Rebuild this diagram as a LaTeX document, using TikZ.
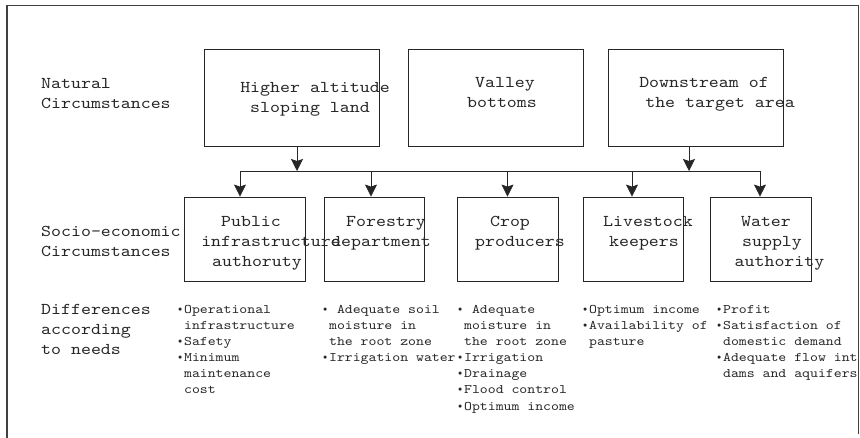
\documentclass[tikz,border=0pt]{standalone}
\usepackage{fontspec}
\setmainfont{lmmono10-regular.otf}[FakeStretch=1.15]
\newfontfamily\bulfont{DejaVu Sans}
\usetikzlibrary{arrows.meta}
\newcommand\indt{\hphantom{x}}
\newcommand\bul{\makebox[\fontcharwd\font`x][c]{\bulfont\scalebox{0.8}{•}}}
\tikzset{
  frame/.style={line width=1.3pt, draw=black!75},
  box/.style={draw=black!85, line width=0.8pt, inner sep=0pt, minimum width=#1},
  topbox/.style={box=175pt, minimum height=97pt},
  botbox/.style={box=100pt, minimum height=84pt},
  big/.style={font=\fontsize{16.5}{20}\selectfont, text=black!85, inner sep=0pt, anchor=base},
  lbl/.style={big, anchor=base west},
  lst/.style={font=\fontsize{13.1}{16}\selectfont, text=black!85, inner sep=0pt, anchor=base west},
  conn/.style={draw=black!85, line width=0.8pt},
  arr/.style={conn, -{Stealth[length=12pt, width=12pt, inset=2pt]}},
}
\begin{document}
\begin{tikzpicture}[x=1pt, y=-1pt]
\useasboundingbox (0,0) rectangle (860,438);
% frame
\draw[frame] (7,438) -- (7,5.5) -- (858.5,5.5) -- (858.5,434);

% row labels
\node[lbl] (n1) at (41,89) {Natural};
\node[lbl] (n2) at (41,109) {Circumstances};
\node[lbl] (s1) at (41,237) {Socio-economic};
\node[lbl] (s2) at (41,257) {Circumstances};
\node[lbl] (d1) at (41,315) {Differences};
\node[lbl] (d2) at (41,335) {according};
\node[lbl] (d3) at (41,355) {to needs};

% top boxes
\node[topbox] (t1) at (291.5,97.5) {};
\node[topbox] (t2) at (495.75,97.5) {};
\node[topbox] (t3) at (695.5,97.5) {};
\node[big] (t1a) at (315,92.5) {Higher altitude};
\node[big] (t1b) at (310,112.5) {sloping land};
\node[big] (t2a) at (505,87.5) {Valley};
\node[big] (t2b) at (502,107.5) {bottoms};
\node[big] (t3a) at (704,87.5) {Downstream of};
\node[big] (t3b) at (720,107.5) {the target area};

% bottom boxes
\node[botbox, minimum width=121pt] (b1) at (244.5,239) {};
\node[botbox] (b2) at (374,239) {};
\node[botbox, minimum width=101pt] (b3) at (507.5,239) {};
\node[botbox] (b4) at (633,239) {};
\node[botbox, minimum width=101pt] (b5) at (760.5,239) {};
\node[big] (b1a) at (251,227) {Public};
\node[big] (b1b) at (271,247) {infrastructure};
\node[big] (b1c) at (257,267) {authoruty};
\node[big] (b2a) at (386,227) {Forestry};
\node[big] (b2b) at (381,247) {department};
\node[big] (b3a) at (510,227) {Crop};
\node[big] (b3b) at (520,247) {producers};
\node[big] (b4a) at (648,227) {Livestock};
\node[big] (b4b) at (644,247) {keepers};
\node[big] (b5a) at (766,227) {Water};
\node[big] (b5b) at (772,247) {supply};
\node[big] (b5c) at (779.5,267) {authority};

% connectors
\coordinate (busL) at (240,171);
\coordinate (busR) at (760,171);
\draw[conn] (busL) -- (busR);
\draw[arr] ([xshift=5.5pt]t1.south) -- ([xshift=5.5pt]t1.south |- busL);
\draw[arr] ([xshift=-6.5pt]t3.south) -- ([xshift=-6.5pt]t3.south |- busL);
\draw[arr] (busL) -- (busL |- b1.north);
\draw[arr] ([xshift=-3pt]b2.north |- busL) -- ([xshift=-3pt]b2.north);
\draw[arr] (b3.north |- busL) -- (b3.north);
\draw[arr] ([xshift=-1pt]b4.north |- busL) -- ([xshift=-1pt]b4.north);
\draw[arr] (busR) -- (busR |- b5.north);

% needs lists
\foreach \t [count=\i from 0] in {\bul Operational,\indt infrastructure,\bul Safety,\bul Minimum,\indt maintenance,\indt cost}
  \node[lst] (la\i) at (176,{314+16*\i}) {\t};
\foreach \t [count=\i from 0] in {\bul\ Adequate soil,\indt moisture in,\indt the root zone,\bul Irrigation water}
  \node[lst] (lb\i) at (321,{314+16*\i}) {\t};
\foreach \t [count=\i from 0] in {\bul\ Adequate,\indt moisture in,\indt the root zone,\bul Irrigation,\bul Drainage,\bul Flood control,\bul Optimum income}
  \node[lst] (lc\i) at (456,{314+16*\i}) {\t};
\foreach \t [count=\i from 0] in {\bul Optimum income,\bul Availability of,\indt pasture}
  \node[lst] (ld\i) at (581,{314+16*\i}) {\t};
\foreach \t [count=\i from 0] in {\bul Profit,\bul Satisfaction of,\indt domestic demand,\bul Adequate flow int,\indt dams and aquifers}
  \node[lst] (le\i) at (715,{314+16*\i}) {\t};
\end{tikzpicture}
\end{document}
